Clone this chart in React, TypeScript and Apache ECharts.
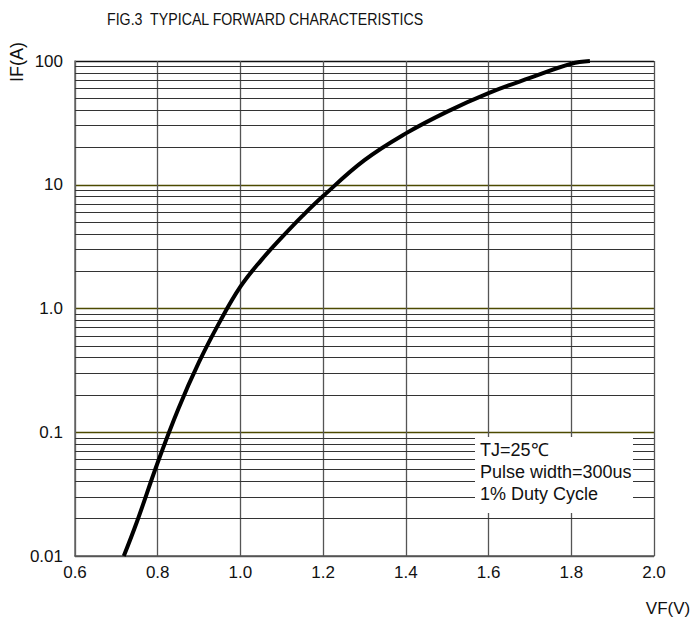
import React, { useEffect, useRef } from "react";
import * as echarts from "echarts";

// Curve data
const vfValues = [0.718, 0.75, 0.8, 0.85, 0.9, 0.95, 1.0, 1.05, 1.1, 1.15, 1.2, 1.3, 1.4, 1.5, 1.6, 1.7, 1.8, 1.845];
const ifValues = [0.01, 0.019, 0.057, 0.155, 0.37, 0.78, 1.5, 2.45, 3.75, 5.6, 8.1, 15.8, 26, 39, 55, 73, 95, 100];

// Axis ticks
const yTickLabels = ["0.01", "0.1", "1.0", "10", "100"];
const decades = [0.01, 0.1, 1, 10];
const minorMultipliers = [2, 3, 4, 5, 6, 7, 8, 9];

const titleText = "FIG.3  TYPICAL FORWARD CHARACTERISTICS";
const yName = "IF(A)";
const xName = "VF(V)";
const noteLines = ["TJ=25\u2103", "Pulse width=300us", "1% Duty Cycle"];

const FONT = "'Liberation Sans', Arial, Helvetica, sans-serif";

export default function App() {
  const ref = useRef<HTMLDivElement>(null);

  useEffect(() => {
    if (!ref.current) return;
    const chart = echarts.init(ref.current, undefined, { renderer: "svg" });

    const minorLines: number[] = [];
    decades.forEach((d) => minorMultipliers.forEach((m) => minorLines.push(+(d * m).toPrecision(3))));

    const seriesData = vfValues.map((v, i) => [v, ifValues[i]]);

    const option: any = {
      animation: false,
      backgroundColor: "#ffffff",
      textStyle: { fontFamily: FONT },
      grid: { left: 75, right: 39, top: 61, bottom: 66, containLabel: false },
      xAxis: {
        type: "value",
        min: 0.6,
        max: 2.0,
        interval: 0.2,
        axisLine: { show: true, lineStyle: { color: "#555", width: 1.5 } },
        axisTick: { show: false },
        axisLabel: {
          color: "#111",
          fontSize: 17,
          fontFamily: FONT,
          margin: 8,
          formatter: (v: number) => v.toFixed(1),
        },
        splitLine: { show: true, lineStyle: { color: "#555", width: 1.3 } },
      },
      yAxis: {
        type: "log",
        logBase: 10,
        min: 0.01,
        max: 100,
        axisLine: { show: true, lineStyle: { color: "#666", width: 1.5 } },
        axisTick: { show: false },
        axisLabel: {
          color: "#111",
          fontSize: 17,
          fontFamily: FONT,
          margin: 12,
          formatter: (v: number) => {
            const idx = Math.round(Math.log10(v)) + 2;
            return yTickLabels[idx] ?? "";
          },
        },
        splitLine: {
          show: true,
          lineStyle: { color: ["#555", "#4d4a00", "#4d4a00", "#4d4a00", "#111"], width: 1.3 },
        },
        minorSplitLine: { show: false },
      },
      graphic: [
        {
          type: "text",
          x: 107,
          y: 19,
          scaleY: 1.2,
          style: { text: titleText, font: `14.2px ${FONT}`, fill: "#111", verticalAlign: "middle" },
        },
        {
          type: "text",
          x: 8,
          y: 62,
          rotation: Math.PI / 2,
          style: {
            text: yName,
            font: `18px ${FONT}`,
            fill: "#111",
            align: "center",
            verticalAlign: "top",
          },
        },
        {
          type: "text",
          x: 668,
          y: 608,
          style: {
            text: xName,
            font: `17px ${FONT}`,
            fill: "#111",
            align: "center",
            verticalAlign: "middle",
          },
        },
        {
          type: "rect",
          z: 100,
          shape: { x: 475, y: 437, width: 158, height: 76 },
          style: { fill: "#ffffff", stroke: "none" },
        },
        ...noteLines.map((t, i) => ({
          type: "text",
          z: 101,
          x: 480,
          y: 450 + i * 22,
          style: { text: t, font: `18px ${FONT}`, fill: "#111", verticalAlign: "middle" },
        })),
      ],
      series: [
        {
          type: "line",
          data: seriesData,
          smooth: 0.4,
          showSymbol: false,
          symbol: "none",
          z: 10,
          lineStyle: { color: "#000", width: 4 },
          markLine: {
            silent: true,
            symbol: ["none", "none"],
            label: { show: false },
            animation: false,
            z: 1,
            lineStyle: { color: "#333", width: 1.2, type: "solid" },
            data: minorLines.map((y) => ({ yAxis: y })),
          },
        },
      ],
    };

    chart.setOption(option);
    return () => chart.dispose();
  }, []);

  return (
    <div
      ref={ref}
      style={{ position: "fixed", left: 0, top: 0, width: 693, height: 622, background: "#fff" }}
    />
  );
}
